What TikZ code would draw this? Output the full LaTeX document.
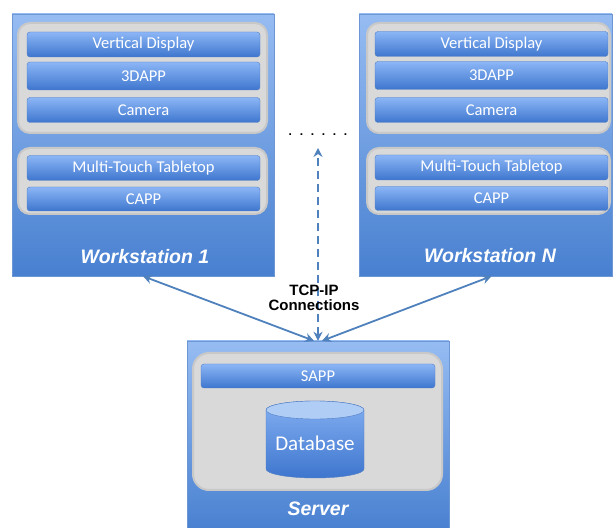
\documentclass[tikz,border=0pt]{standalone}
\usepackage{fontspec}
\setmainfont{Carlito}
\newfontfamily\headfont{Liberation Sans}
\usepackage{tikz}
\usetikzlibrary{positioning,arrows.meta}
\definecolor{WBlueTop}{RGB}{150,188,242}
\definecolor{WBlueBot}{RGB}{72,128,208}
\definecolor{WBlueLine}{RGB}{108,150,212}
\definecolor{BarTop}{RGB}{140,182,246}
\definecolor{BarBot}{RGB}{62,118,206}
\definecolor{BarLine}{RGB}{80,125,195}
\definecolor{GroupGray}{RGB}{217,217,217}
\definecolor{GroupLine}{RGB}{200,200,200}
\definecolor{LinkBlue}{RGB}{79,129,189}
\definecolor{CapBlue}{RGB}{176,205,246}

\begin{document}
\begin{tikzpicture}[x=1pt, y=1pt,
    station/.style={rectangle, draw=WBlueLine, top color=WBlueTop, bottom color=WBlueBot, minimum width=262pt, minimum height=262pt, inner sep=0pt},
    group/.style={rectangle, rounded corners=12pt, draw=GroupLine, line width=2pt, fill=GroupGray, minimum width=249pt, inner sep=0pt},
    bar/.style={rectangle, rounded corners=3pt, draw=BarLine, top color=BarTop, bottom color=BarBot, minimum width=233pt, minimum height=25pt, inner sep=0pt, text=white, font=\fontsize{16.5}{18}\selectfont},
    title/.style={text=white, font=\headfont\bfseries\itshape\fontsize{19.5}{21}\selectfont},
    link/.style={draw=LinkBlue, line width=1.8pt, {Stealth[length=9pt,width=9pt]}-{Stealth[length=9pt,width=9pt]}}
]
    \useasboundingbox (0,0) rectangle (614,528);

    % Outer boxes
    \node[station] (ws1) at (143,383) {};
    \node[station, minimum width=253pt] (wsn) at (485.5,383) {};
    \node[station, minimum height=191pt] (server) at (318,91.5) {};

    % Gray groups
    \node[group, minimum height=110pt] (ws1up) at (142.5,450) {};
    \node[group, minimum height=66pt] (ws1low) at (142.5,347) {};
    \node[group, minimum width=243pt, minimum height=110pt] (wsnup) at (488.5,450) {};
    \node[group, minimum width=243pt, minimum height=66pt] (wsnlow) at (488.5,347) {};
    \node[group, minimum height=137pt, rounded corners=16pt] (srvgrp) at (317.5,106.5) {};

    % Workstation 1
    \node[bar] (ws1vd) at (143.5,483.5) {Vertical Display};
    \node[bar, minimum height=28pt] (ws1app) at (143.5,452) {3DAPP};
    \node[bar] (ws1cam) at (143.5,418) {Camera};
    \node[bar] (ws1mt) at (143.5,360) {Multi-Touch Tabletop};
    \node[bar, minimum height=24pt] (ws1capp) at (143.5,329) {CAPP};
    \node[title] (ws1name) at (145,271) {Workstation 1};

    % Workstation N
    \node[bar] (wsnvd) at (491.5,484) {Vertical Display};
    \node[bar, minimum height=28pt] (wsnapp) at (491.5,452.5) {3DAPP};
    \node[bar] (wsncam) at (491.5,418) {Camera};
    \node[bar] (wsnmt) at (491.5,360.5) {Multi-Touch Tabletop};
    \node[bar, minimum height=24pt] (wsncapp) at (491.5,329.5) {CAPP};
    \node[title] (wsnname) at (490,272) {Workstation N};

    % Server
    \node[bar, minimum width=234pt, minimum height=24pt] (sapp) at (318,152) {SAPP};
    \shade[top color=BarTop!90!BarBot, bottom color=BarBot, draw=BarLine]
        (266,118) -- (266,59) arc[start angle=180, end angle=360, x radius=49, y radius=9]
        -- (364,118) arc[start angle=0, end angle=180, x radius=49, y radius=9] -- cycle;
    \filldraw[fill=CapBlue, draw=BarLine] (315,118) ellipse[x radius=49, y radius=9];
    \node[text=white, font=\fontsize{21}{24}\selectfont] (db) at (315,85) {Database};
    \node[title] (srvname) at (318,19) {Server};

    % Connections
    \coordinate (uptip) at (318,380);
    \node[font=\headfont\bfseries\fontsize{12}{14}\selectfont] (dots) at (318,393) {.\hspace{7.7pt}.\hspace{7.7pt}.\hspace{7.7pt}.\hspace{7.7pt}.\hspace{7.7pt}.};
    \draw[link] (ws1.south) -- ([xshift=-4pt]server.north);
    \draw[link] ([xshift=6pt]wsn.south) -- ([xshift=4pt]server.north);
    \draw[link, line width=2.2pt, dash pattern=on 8pt off 5pt] (server.north) -- (uptip);
    \node[font=\headfont\bfseries\fontsize{15}{15}\selectfont, align=center] (tcp) at (314,230.5) {TCP-IP\\Connections};
\end{tikzpicture}
\end{document}
